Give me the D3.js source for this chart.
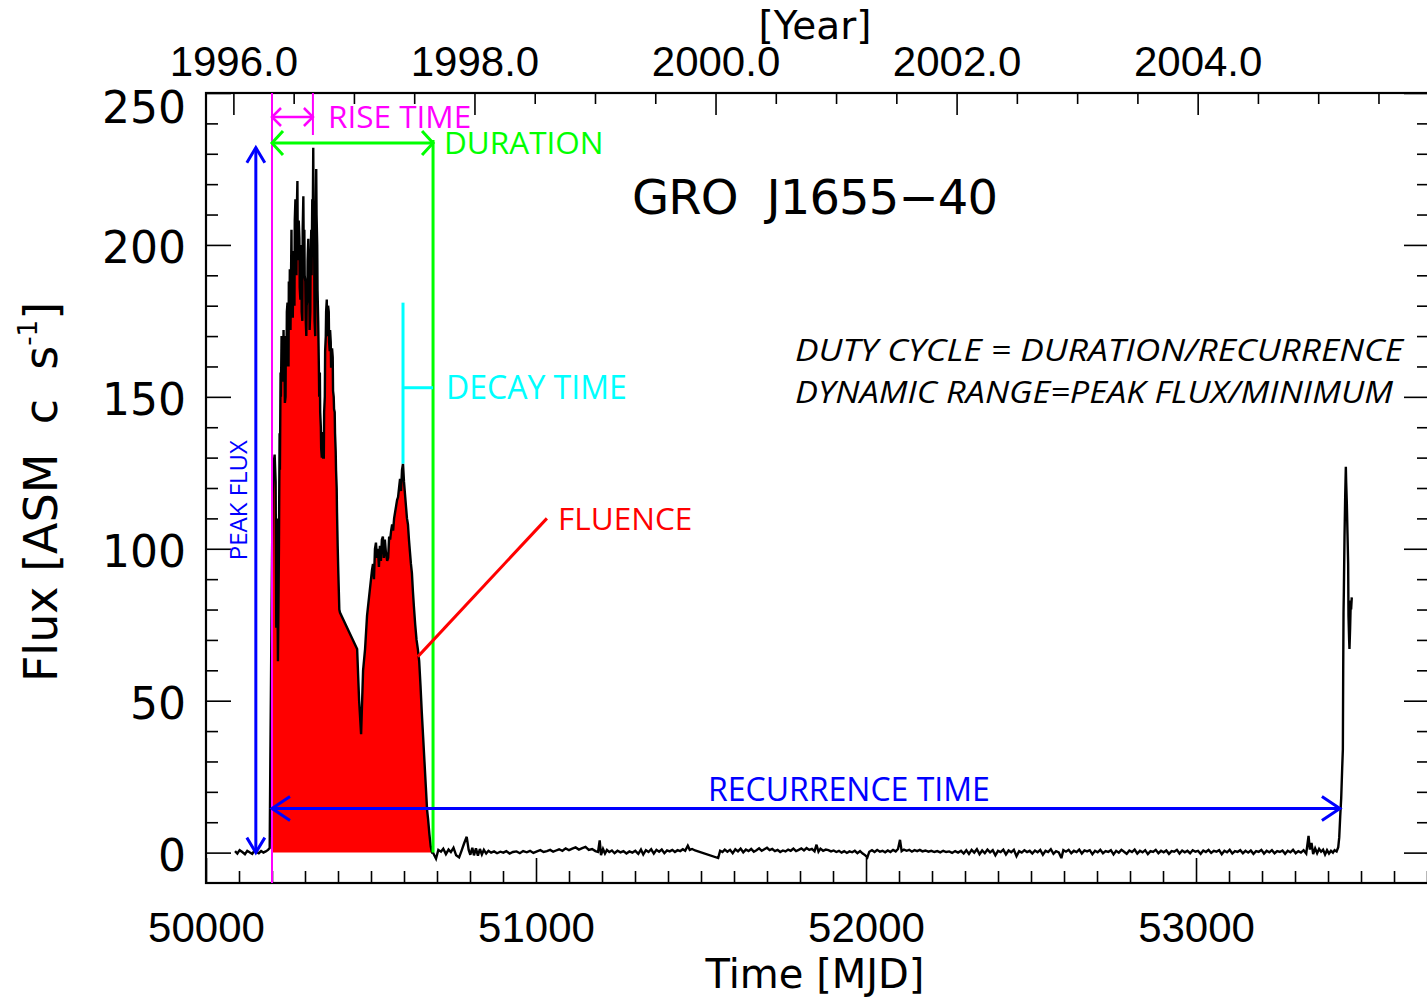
<!DOCTYPE html>
<html>
<head>
<meta charset="utf-8">
<script src="https://cdn.jsdelivr.net/npm/d3@7"></script>
<style>
  body { margin: 0; background: #fff; }
  svg { display: block; }
</style>
</head>
<body>
<svg id="chart" width="1427" height="1000"></svg>
<script>
// RXTE/ASM light curve of GRO J1655-40, [MJD, flux in ASM c/s]
const preOutburst = [
  [50088,0.5],[50095,-0.3],[50102,0.8],[50110,0.2],[50118,-0.5],[50125,0.6],[50132,0.1],
  [50140,-0.4],[50147,0.7],[50153,0.2],[50160,-0.2],[50167,0.5],[50174,0.0],[50181,0.4],
  [50188,0.9],[50193,1.5],[50195,31]
];

const outburst1996 = [
  [50200,96],[50202,118],[50205,128],[50208,131],[50211,122],[50213,74],[50215,110],
  [50218,63],[50221,100],[50223,138],[50224,126],[50226,158],[50227,150],[50229,170],
  [50230,160],[50232,168],[50233,155],[50235,172],[50236,162],[50238,160],[50239,148],
  [50241,150],[50242,170],[50244,160],[50245,178],[50247,181],[50248,165],[50250,160],
  [50251,188],[50253,175],[50254,192],[50256,172],[50257,182],[50259,205],[50260,185],
  [50262,190],[50263,176],[50265,198],[50266,185],[50268,180],[50269,208],[50271,215],
  [50272,195],[50274,190],[50275,210],[50277,221],[50278,200],[50280,195],[50281,208],
  [50283,202],[50284,186],[50286,182],[50287,196],[50289,200],[50290,178],[50292,175],
  [50293,205],[50295,216],[50296,200],[50298,205],[50299,190],[50301,188],[50302,176],
  [50304,170],[50305,180],[50307,182],[50308,195],[50310,202],[50311,188],[50313,190],
  [50314,172],[50316,178],[50317,196],[50319,205],[50320,190],[50322,215],[50323,200],
  [50325,232],[50326,210],[50328,195],[50329,175],[50331,170],[50332,200],[50334,225],
  [50335,210],[50337,200],[50338,185],[50340,175],[50342,160],[50343,150],[50345,158],
  [50346,145],[50348,140],[50349,133],[50351,130],[50352,138],[50354,138],[50355,130],
  [50357,130],[50358,145],[50360,150],[50361,165],[50363,170],[50364,178],[50366,182],
  [50367,170],[50369,175],[50370,180],[50372,178],[50373,168],[50375,165],[50376,172],
  [50378,168],[50379,160],[50381,160],[50382,166],[50384,163],[50385,152],[50387,150],
  [50388,146],[50390,145],[50391,138],[50393,132],[50394,126],[50396,120],[50397,112],
  [50399,101],[50401,92],[50404,80],[50406,79],
  [50458,67],[50464,50],[50470,39],[50476,60],[50482,67],[50488,78],[50494,84],[50500,90],
  [50503,93],[50506,95],[50509,90],[50512,100],[50515,102],[50518,97],[50521,100],[50524,94],
  [50527,101],[50530,96],[50533,103],[50536,104],[50539,97],[50542,103],[50545,99],[50549,96],
  [50552,97],[50555,104],[50558,103],[50561,106],[50564,108],[50567,106],[50570,110],[50573,112],
  [50576,114],[50579,116],[50582,117],[50585,120],[50588,123],[50591,119],[50594,126],[50597,128],
  [50600,122],[50603,118],[50606,114],[50609,110],[50612,108],[50615,103],[50618,99],[50621,95],
  [50624,92],[50627,86],[50630,81],[50634,75],[50638,70],[50642,67],[50646,63],[50650,55],
  [50654,46],[50658,38],[50662,30],[50666,22],[50670,14],[50673,11],[50677,6],[50681,2],
  [50685,0]
];

const quiescence = [
  [50688,0.0],[50697,-2.0],[50704,0.9],[50712,0.3],[50719,1.3],[50727,-0.5],[50735,1.0],[50742,0.2],
  [50750,1.6],[50758,-0.9],[50767,-1.6],[50774,0.5],[50782,3.0],[50790,5.2],[50796,0.9],[50801,-0.7],
  [50807,1.6],[50812,-0.9],[50818,1.4],[50824,-1.0],[50830,1.2],[50836,-0.6],[50842,0.9],[50849,-0.3],
  [50856,0.6],[50864,0.0],[50873,0.4],[50882,-0.2],[50892,0.3],[50901,0.0],[50910,0.5],[50920,-0.3],
  [50930,0.2],[50941,0.4],[50951,-0.2],[50961,0.5],[50972,0.1],[50982,0.6],[50992,-0.1],[51003,0.4],
  [51013,0.8],[51023,0.2],[51033,0.5],[51043,0.9],[51052,0.3],[51061,0.7],[51070,1.1],[51080,0.6],
  [51090,1.4],[51100,0.8],[51110,1.3],[51120,1.7],[51130,1.0],[51140,1.5],[51150,1.9],[51160,0.9],
  [51170,1.2],[51180,0.5],[51188,0.2],[51193,4.0],[51197,-0.8],[51203,1.2],[51209,-0.3],[51215,0.9],
  [51222,0.2],[51230,0.7],[51238,-0.2],[51247,0.6],[51256,0.1],[51265,0.5],[51274,-0.3],[51283,0.4],
  [51292,0.0],[51301,0.6],[51310,-0.4],[51318,1.0],[51325,-0.6],[51333,0.8],[51341,0.2],[51349,1.1],
  [51357,-0.3],[51365,0.9],[51373,0.3],[51381,1.0],[51389,-0.2],[51397,0.7],[51405,0.4],[51413,0.9],
  [51421,0.2],[51429,0.8],[51437,0.5],[51445,1.1],[51452,0.6],[51460,2.3],[51466,0.9],[51473,1.2],
  [51482,0.7],
  [51552,-1.8],[51558,0.6],[51565,0.2],[51572,1.0],[51580,0.3],[51588,0.9],[51596,-0.2],[51604,1.1],
  [51612,0.4],[51620,1.3],[51628,0.1],[51636,1.0],[51644,0.5],[51652,1.2],[51660,0.3],[51668,0.8],
  [51676,1.4],[51684,0.6],[51692,1.1],[51700,1.6],[51708,0.8],[51716,1.2],[51724,0.5],[51732,0.9],
  [51740,0.2],[51748,0.7],[51756,0.4],[51764,1.0],[51772,0.6],[51780,1.3],[51788,0.5],[51796,0.9],
  [51804,1.4],[51812,0.7],[51820,1.5],[51828,0.9],[51836,1.2],[51844,0.4],[51850,2.6],[51856,0.3],
  [51862,1.3],[51870,0.6],[51878,1.0],[51886,0.8],[51894,0.4],[51902,0.7],[51910,0.2],[51918,0.6],
  [51926,0.0],[51934,0.5],[51942,-0.1],[51950,0.4],[51958,0.1],[51966,0.6],[51974,-0.2],[51982,0.5],
  [51990,-0.3],[51998,-0.9],[52004,-1.6],[52010,0.3],[52018,0.8],[52026,0.2],[52034,0.9],[52042,0.3],
  [52050,0.6],[52058,0.1],[52066,0.7],[52074,0.2],[52082,0.9],[52090,0.4],[52097,1.2],[52103,4.2],
  [52108,0.5],[52115,1.0],[52123,0.6],[52131,0.9],[52139,0.3],[52147,0.8],[52155,0.5],[52163,0.9],
  [52171,0.4],[52180,0.7],[52189,0.3],[52198,0.6],[52207,0.2],[52216,0.5],[52225,0.1],[52234,0.6],
  [52243,0.2],[52252,0.4],[52261,-0.1],[52270,0.5],[52279,0.0],[52288,0.6],[52296,-0.3],[52304,0.8],
  [52312,-0.4],[52320,0.9],[52328,0.0],[52336,1.1],[52344,-0.5],[52352,0.7],[52360,-0.2],[52368,1.0],
  [52376,0.1],[52384,0.8],[52392,-0.9],[52400,0.6],[52408,0.2],[52416,1.0],[52424,-0.6],[52432,0.7],
  [52440,0.1],[52448,0.9],[52456,-1.2],[52464,0.5],[52472,0.0],[52480,0.8],[52488,0.2],[52496,0.6],
  [52504,-0.3],[52512,0.7],[52520,0.1],[52528,0.9],[52536,-0.7],[52544,0.6],[52552,0.2],[52560,1.1],
  [52568,-0.4],[52576,0.5],[52584,0.1],[52592,-1.8],[52598,0.8],[52606,0.3],[52614,0.9],[52622,-0.2],
  [52630,0.6],[52638,0.2],[52646,1.0],[52654,-0.3],[52662,0.7],[52670,0.4],[52678,0.8],[52686,-0.5],
  [52694,0.6],[52702,0.1],[52710,0.9],[52718,-0.2],[52726,0.5],[52734,0.2],[52742,0.8],[52750,-0.6],
  [52758,0.6],[52766,0.0],[52774,0.9],[52782,0.3],[52790,-0.4],[52798,0.7],[52806,0.2],[52814,1.0],
  [52822,-0.3],[52830,0.6],[52838,0.1],[52846,0.8],[52854,-0.5],[52862,0.5],[52870,0.2],[52878,0.9],
  [52886,-0.2],[52894,0.6],[52902,0.1],[52910,0.7],[52918,-0.4],[52926,0.5],[52934,0.3],[52942,0.9],
  [52950,-0.3],[52958,0.7],[52966,0.1],[52974,0.6],[52982,-0.2],[52990,0.8],[52998,0.3],[53006,0.6],
  [53014,-0.4],[53022,0.7],[53030,0.2],[53038,0.9],[53046,-0.1],[53054,0.6],[53062,0.3],[53070,0.8],
  [53078,-0.5],[53086,0.6],[53094,0.1],[53102,0.9],[53110,-0.3],[53118,0.5],[53126,0.2],[53134,0.8],
  [53142,-0.2],[53150,0.6],[53158,0.0],[53166,0.7],[53174,-0.4],[53182,0.5],[53190,0.2],[53198,0.9],
  [53206,-0.3],[53214,0.6],[53222,0.1],[53230,0.8],[53238,-0.2],[53246,0.5],[53254,0.2],[53262,0.7],
  [53270,-0.4],[53278,0.6],[53286,0.1],[53294,0.9],[53302,-0.2],[53310,0.5],[53318,0.0],[53326,0.8],
  [53334,-0.3],[53341,5.5],[53345,1.0],[53350,3.2],[53355,-0.5],[53361,1.4],[53367,-0.2],[53373,1.2],
  [53379,0.3],[53385,1.0],[53391,-0.6],[53397,0.8],[53403,-0.3],[53409,0.6],[53415,0.0],[53420,0.8],
  [53426,0.4],[53431,1.8]
];

const outburst2005 = [
  [53434,5],[53437,12],[53440,18],[53443,28],[53445,34],[53446,60],[53447,79],[53448,86],
  [53450,104],[53452,117],[53454,127],[53455,122],[53457,115],[53459,105],[53461,95],[53462,78],
  [53464,70],[53465,67],[53467,74],[53469,83],[53470,80],[53472,84]
];

// axis ticks
const fluxTicks = [0, 50, 100, 150, 200, 250];
const mjdTicks = [50000, 51000, 52000, 53000];
const yearTicks = [1996, 1998, 2000, 2002, 2004];

// outburst timing markers (MJD) and the fluxes they point at
const riseStart = 50200, riseEnd = 50324, outburstEnd = 50688;
const peakMarkerMjd = 50151, peakFlux = 232;
const decayMjd = 50597, decayPeakFlux = 128, decayTopFlux = 181, decayBarFlux = 153;
const recurrenceFlux = 14.5, recurrenceEnd = 53436;
const fluenceFrom = [50642, 64.5], fluenceTo = [51033, 110];

const L = 206, R = 1429, T = 93, B = 883;
const svg = d3.select("#chart");

const x = d3.scaleLinear().domain([50000, 53706]).range([L, R]);
const y = d3.scaleLinear().domain([-10, 250]).range([B, T]);
const mjdToYear = m => 1996 + (m - 50083) / 365.25;
const xYear = d3.scaleLinear().domain([mjdToYear(50000), mjdToYear(53706)]).range([L, R]);

svg.append("defs").append("clipPath").attr("id", "plotClip")
  .append("rect").attr("x", L).attr("y", T).attr("width", R - L).attr("height", B - T);

const plot = svg.append("g").attr("clip-path", "url(#plotClip)");

// fluence: area under the 1996-97 outburst
const fillPts = outburst1996.filter(d => d[0] >= riseStart && d[0] <= outburstEnd);
plot.append("path")
  .attr("d", d3.area().x(d => x(d[0])).y0(y(0)).y1(d => y(d[1]))(fillPts))
  .attr("fill", "#ff0000");

// light curve
const allPts = preOutburst.concat(outburst1996, quiescence, outburst2005);
plot.append("path")
  .attr("d", d3.line().x(d => x(d[0])).y(d => y(d[1]))(allPts))
  .attr("fill", "none").attr("stroke", "#000").attr("stroke-width", 2.4)
  .attr("stroke-linejoin", "miter").attr("stroke-miterlimit", 3);

// axes
function styleAxis(g) {
  g.select(".domain").remove();
  g.selectAll(".tick line").attr("stroke", "#000").attr("stroke-width", 1.6);
}
const labelFont = "'DejaVu Sans', sans-serif";
const mjdFont = "'Liberation Sans', Arial, sans-serif";

const minorFlux = d3.range(0, 251, 10).filter(v => v % 50 !== 0);
const minorMjd = d3.range(50100, 53706, 100).filter(v => v % 1000 !== 0);
const minorYear = d3.range(1996, 2006, 0.5).filter(v => v % 2 !== 0);

// left
svg.append("g").attr("transform", `translate(${L},0)`)
  .call(d3.axisLeft(y).tickValues(fluxTicks).tickSizeInner(-25).tickSizeOuter(0).tickPadding(20))
  .call(styleAxis)
  .call(g => g.selectAll("text").attr("font-family", labelFont).attr("font-size", 44)
    .attr("fill", "#000").attr("dy", d => d === 250 ? "0.66em" : "0.4em"));
svg.append("g").attr("transform", `translate(${L},0)`)
  .call(d3.axisLeft(y).tickValues(minorFlux).tickSizeInner(-12).tickSizeOuter(0).tickFormat(""))
  .call(styleAxis);
// right
svg.append("g").attr("transform", `translate(${R},0)`)
  .call(d3.axisRight(y).tickValues(fluxTicks).tickSizeInner(-25).tickSizeOuter(0).tickFormat(""))
  .call(styleAxis);
svg.append("g").attr("transform", `translate(${R},0)`)
  .call(d3.axisRight(y).tickValues(minorFlux).tickSizeInner(-12).tickSizeOuter(0).tickFormat(""))
  .call(styleAxis);
// bottom
svg.append("g").attr("transform", `translate(0,${B})`)
  .call(d3.axisBottom(x).tickValues(mjdTicks).tickSizeInner(-25).tickSizeOuter(0).tickPadding(29)
    .tickFormat(d3.format("d")))
  .call(styleAxis)
  .call(g => g.selectAll("text").attr("font-family", mjdFont).attr("font-size", 42).attr("fill", "#000"));
svg.append("g").attr("transform", `translate(0,${B})`)
  .call(d3.axisBottom(x).tickValues(minorMjd).tickSizeInner(-12).tickSizeOuter(0).tickFormat(""))
  .call(styleAxis);
// top (calendar years)
svg.append("g").attr("transform", `translate(0,${T})`)
  .call(d3.axisTop(xYear).tickValues(yearTicks).tickSizeInner(-22).tickSizeOuter(0).tickPadding(17)
    .tickFormat(d3.format(".1f")))
  .call(styleAxis)
  .call(g => g.selectAll("text").attr("font-family", mjdFont).attr("font-size", 42).attr("fill", "#000"));
svg.append("g").attr("transform", `translate(0,${T})`)
  .call(d3.axisTop(xYear).tickValues(minorYear).tickSizeInner(-11).tickSizeOuter(0).tickFormat(""))
  .call(styleAxis);

// frame
svg.append("rect").attr("x", L).attr("y", T).attr("width", R - L).attr("height", B - T)
  .attr("fill", "none").attr("stroke", "#000").attr("stroke-width", 2.2);

// axis titles
svg.append("text").attr("x", 815).attr("y", 39).attr("text-anchor", "middle")
  .attr("font-family", labelFont).attr("font-size", 39).text("[Year]");
svg.append("text").attr("x", 815).attr("y", 988).attr("text-anchor", "middle")
  .attr("font-family", labelFont).attr("font-size", 40).text("Time [MJD]");
const yt = svg.append("text").attr("transform", "translate(57,492) rotate(-90)")
  .attr("text-anchor", "middle").attr("font-family", labelFont).attr("font-size", 46)
  .style("white-space", "pre");
yt.append("tspan").text("Flux [ASM  c  s");
yt.append("tspan").attr("font-size", 26).attr("dy", -20).text("-1");
yt.append("tspan").attr("dy", 20).text("]");

svg.append("text").attr("x", 632).attr("y", 214)
  .attr("font-family", labelFont).attr("font-size", 48).style("white-space", "pre")
  .attr("textLength", 366).attr("lengthAdjust", "spacing")
  .text("GRO  J1655\u221240");

// annotation helpers
function chevron(tx, ty, dx, dy, len, wid, color, sw) {
  const px = -dy, py = dx;
  const p = d3.path();
  p.moveTo(tx - dx * len + px * wid, ty - dy * len + py * wid);
  p.lineTo(tx, ty);
  p.lineTo(tx - dx * len - px * wid, ty - dy * len - py * wid);
  svg.append("path").attr("d", p.toString()).attr("fill", "none")
    .attr("stroke", color).attr("stroke-width", sw).attr("stroke-linejoin", "miter");
}
function seg(x1, y1, x2, y2, color, sw) {
  svg.append("line").attr("x1", x1).attr("y1", y1).attr("x2", x2).attr("y2", y2)
    .attr("stroke", color).attr("stroke-width", sw);
}
function label(tx, ty, str, color, size, extra) {
  const t = svg.append("text").attr("x", tx).attr("y", ty).attr("fill", color)
    .attr("font-family", "'Open Sans', sans-serif").attr("font-size", size).text(str);
  if (extra) extra(t);
  return t;
}

const MAG = "#ff00ff", GRN = "#00ff00", BLU = "#0000ff", CYN = "#00ffff", RED = "#ff0000";

// rise time
seg(x(riseStart), T, x(riseStart), B, MAG, 2);
seg(x(riseEnd), T, x(riseEnd), 135, MAG, 2);
seg(x(riseStart), 117, x(riseEnd), 117, MAG, 2.5);
chevron(x(riseStart), 117, -1, 0, 9, 9, MAG, 2.5);
chevron(x(riseEnd), 117, 1, 0, 9, 9, MAG, 2.5);
label(328, 128, "RISE TIME", MAG, 31.5);

// duration
seg(x(outburstEnd), 140, x(outburstEnd), y(0), GRN, 3);
seg(x(riseStart), 143, x(outburstEnd), 143, GRN, 3);
chevron(x(riseStart), 143, -1, 0, 11, 12, GRN, 3);
chevron(x(outburstEnd), 143, 1, 0, 11, 12, GRN, 3);
label(444, 154, "DURATION", GRN, 31.5);

// peak flux
seg(x(peakMarkerMjd), y(peakFlux), x(peakMarkerMjd), y(0), BLU, 3);
chevron(x(peakMarkerMjd), y(peakFlux), 0, -1, 15, 9, BLU, 3);
chevron(x(peakMarkerMjd), y(0), 0, 1, 15, 9, BLU, 3);
label(0, 0, "PEAK FLUX", BLU, 24, t => t
  .attr("transform", `translate(${x(peakMarkerMjd) - 9},${y(116)}) rotate(-90)`)
  .attr("text-anchor", "middle"));

// decay time
seg(x(decayMjd), y(decayTopFlux), x(decayMjd), y(decayPeakFlux), CYN, 3);
seg(x(decayMjd), y(decayBarFlux), x(outburstEnd), y(decayBarFlux), CYN, 3);
label(446, 399, "DECAY TIME", CYN, 32);

// fluence
seg(x(fluenceFrom[0]), y(fluenceFrom[1]), x(fluenceTo[0]), y(fluenceTo[1]), RED, 3);
label(558, 530, "FLUENCE", RED, 31.5);

// recurrence time
seg(x(riseStart), y(recurrenceFlux), x(recurrenceEnd), y(recurrenceFlux), BLU, 3);
chevron(x(riseStart), y(recurrenceFlux), -1, 0, 18, 12, BLU, 3);
chevron(x(recurrenceEnd), y(recurrenceFlux), 1, 0, 18, 12, BLU, 3);
label(708, 801, "RECURRENCE TIME", BLU, 32);

// definitions
label(795, 361, "DUTY CYCLE = DURATION/RECURRENCE", "#000", 31, t => t.attr("font-style", "italic")
  .attr("textLength", 608).attr("lengthAdjust", "spacingAndGlyphs"));
label(795, 403, "DYNAMIC RANGE=PEAK FLUX/MINIMUM", "#000", 31, t => t.attr("font-style", "italic")
  .attr("textLength", 598).attr("lengthAdjust", "spacingAndGlyphs"));
</script>
</body>
</html>
